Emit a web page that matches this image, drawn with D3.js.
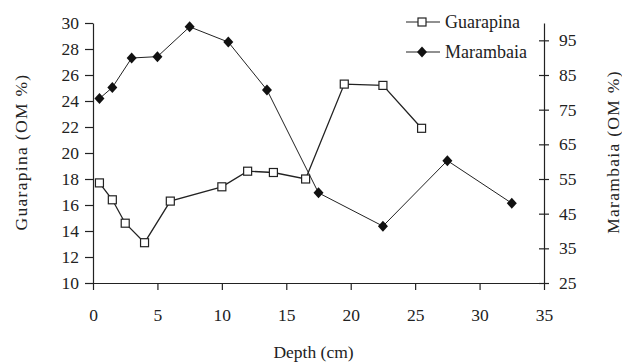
<!DOCTYPE html>
<html>
<head>
<meta charset="utf-8">
<script src="https://cdn.jsdelivr.net/npm/d3@7"></script>
<style>
body { margin: 0; background: #fff; }
text { font-family: "Liberation Serif", "Times New Roman", serif; fill: #222; }
</style>
</head>
<body>
<div id="chart"></div>
<script>
// data
var guaDepth = [0.5, 1.5, 2.5, 4, 6, 10, 12, 14, 16.5, 19.5, 22.5, 25.5];
var guaOM = [17.7, 16.4, 14.6, 13.1, 16.3, 17.4, 18.6, 18.5, 18.0, 25.3, 25.2, 21.9];
var marDepth = [0.5, 1.5, 3, 5, 7.5, 10.5, 13.5, 17.5, 22.5, 27.5, 32.5];
var marOM = [78.2, 81.4, 89.9, 90.3, 98.9, 94.5, 80.7, 51.0, 41.4, 60.3, 48.0];
var xTicks = [0, 5, 10, 15, 20, 25, 30, 35];
var leftTicks = [10, 12, 14, 16, 18, 20, 22, 24, 26, 28, 30];
var rightTicks = [25, 35, 45, 55, 65, 75, 85, 95];

const W = 622, H = 363;
const margin = {top: 23, right: 78, bottom: 80, left: 93},
width = W - margin.left - margin.right,
height = H - margin.top - margin.bottom;

var fontSize = "17.5px";

var svg = d3.select("#chart").append("svg")
    .attr("width", W)
    .attr("height", H)
    .append("g")
    .attr("transform", "translate(" + margin.left + "," + margin.top + ")");

var xScale = d3.scaleLinear().domain([0, 35]).range([0, width]);
var yLeft = d3.scaleLinear().domain([10, 30]).range([height, 0]);
var yRight = d3.scaleLinear().domain([25, 100]).range([height, 0]);

function styleAxis(g) {
    g.select(".domain").attr("stroke", "#222").attr("stroke-width", 1.2);
    g.selectAll(".tick line").attr("stroke", "#222").attr("stroke-width", 1.2);
    g.selectAll(".tick text").style("font-size", fontSize).attr("fill", "#222")
        .style("font-family", "'Liberation Serif', serif");
}

// x axis
var xg = svg.append("g")
    .attr("transform", "translate(0," + height + ")")
    .call(d3.axisBottom(xScale).tickValues(xTicks).tickSize(7).tickSizeOuter(0).tickPadding(19));
styleAxis(xg);

// left axis
var lg = svg.append("g")
    .call(d3.axisLeft(yLeft).tickValues(leftTicks).tickSize(8).tickSizeOuter(0).tickPadding(6));
styleAxis(lg);

// right axis, ticks cross the line
var rg = svg.append("g")
    .attr("transform", "translate(" + width + ",0)")
    .call(d3.axisRight(yRight).tickValues(rightTicks).tickSize(5).tickSizeOuter(0).tickPadding(10));
rg.selectAll(".tick line").attr("x1", -5);
styleAxis(rg);

// axis titles
svg.append("text")
    .attr("x", width / 2 - 5)
    .attr("y", height + 75)
    .attr("text-anchor", "middle")
    .style("font-size", fontSize)
    .text("Depth (cm)");

svg.append("text")
    .attr("transform", "translate(" + (-66) + "," + (152 - margin.top) + ") rotate(-90)")
    .attr("text-anchor", "middle")
    .style("font-size", fontSize)
    .style("letter-spacing", "1.3px")
    .text("Guarapina (OM %)");

svg.append("text")
    .attr("transform", "translate(" + (width + 75) + "," + (152 - margin.top) + ") rotate(-90)")
    .attr("text-anchor", "middle")
    .style("font-size", fontSize)
    .style("letter-spacing", "1.3px")
    .text("Marambaia (OM %)");

var guaData = guaDepth.map((d, i) => ({x: d, y: guaOM[i]}));
var marData = marDepth.map((d, i) => ({x: d, y: marOM[i]}));

var lineL = d3.line().x(d => xScale(d.x)).y(d => yLeft(d.y));
var lineR = d3.line().x(d => xScale(d.x)).y(d => yRight(d.y));

svg.append("path").datum(marData)
    .attr("fill", "none").attr("stroke", "#222").attr("stroke-width", 1)
    .attr("d", lineR);

svg.append("path").datum(guaData)
    .attr("fill", "none").attr("stroke", "#222").attr("stroke-width", 1.3)
    .attr("d", lineL);

var diamond = "M0,-5.5L5,0L0,5.5L-5,0Z";

svg.append("g").selectAll("path")
    .data(marData)
    .enter().append("path")
    .attr("d", diamond)
    .attr("transform", d => "translate(" + xScale(d.x) + "," + yRight(d.y) + ")")
    .attr("fill", "#111");

svg.append("g").selectAll("rect")
    .data(guaData)
    .enter().append("rect")
    .attr("x", d => xScale(d.x) - 4)
    .attr("y", d => yLeft(d.y) - 4)
    .attr("width", 8).attr("height", 8)
    .attr("fill", "#fff").attr("stroke", "#222").attr("stroke-width", 1.2);

// legend
var legend = svg.append("g").attr("transform", "translate(" + (406 - margin.left) + "," + (22 - margin.top) + ")");
var items = [{name: "Guarapina", type: "square"}, {name: "Marambaia", type: "diamond"}];
items.forEach((it, i) => {
    var g = legend.append("g").attr("transform", "translate(0," + (i * 30) + ")");
    g.append("line").attr("x1", 0).attr("x2", 34).attr("stroke", "#222").attr("stroke-width", 1.2);
    if (it.type == "square") {
        g.append("rect").attr("x", 12).attr("y", -4).attr("width", 8).attr("height", 8)
            .attr("fill", "#fff").attr("stroke", "#222").attr("stroke-width", 1.2);
    } else {
        g.append("path").attr("d", diamond).attr("transform", "translate(16,0)").attr("fill", "#111");
    }
    g.append("text").attr("x", 39).attr("y", 6)
        .style("font-size", "18px")
        .text(it.name);
});
</script>
</body>
</html>
